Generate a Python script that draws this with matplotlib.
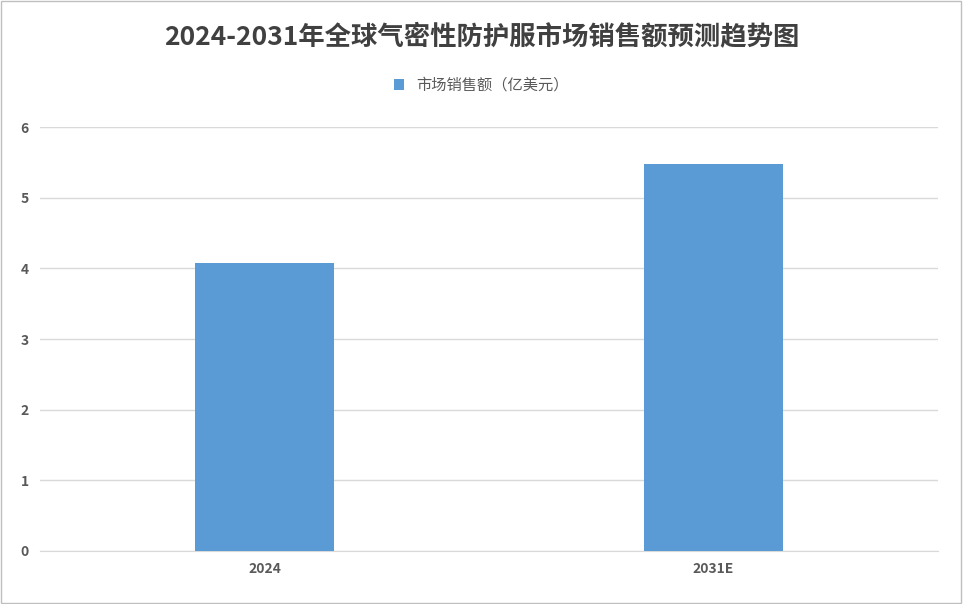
import matplotlib
matplotlib.use("Agg")
import matplotlib.pyplot as plt
from matplotlib.patches import Rectangle

plt.rcParams['font.family'] = ['Noto Sans CJK SC', 'DejaVu Sans']

categories = ["2024", "2031E"]
values = [4.08, 5.48]
series_name = "市场销售额（亿美元）"
title = "2024-2031年全球气密性防护服市场销售额预测趋势图"

fig = plt.figure(figsize=(9.63, 6.04), dpi=100)
ax = fig.add_axes([40/963, 1-551/604, 898/963, (551-127)/604])
ax.bar(range(len(categories)), values, width=0.31, color="#5B9BD5", label=series_name, zorder=3)
ax.set_xlim(-0.5, 1.5)
ax.set_ylim(0, 6)
ax.set_yticks(range(0, 7))
ax.set_xticks(range(len(categories)))
ax.set_xticklabels(categories, fontweight='bold')
ax.yaxis.grid(True, color="#D9D9D9", linewidth=1, zorder=0)
for s in ["top", "right", "left"]:
    ax.spines[s].set_visible(False)
ax.spines["bottom"].set_color("#D9D9D9")
ax.tick_params(axis='both', length=0, labelsize=10, colors="#595959", pad=8)
for t in ax.get_yticklabels():
    t.set_fontweight('bold')
fig.text(0.5, 1-37/604, title, ha='center', va='center', fontsize=19, fontweight='bold', color="#404040")
fig.legend(loc='center', bbox_to_anchor=(0.5, 1-85/604), frameon=False, fontsize=11,
           handlelength=0.7, handleheight=0.7, labelcolor="#595959")
fig.patches.append(Rectangle((0.001, 0.001), 0.997, 0.997, transform=fig.transFigure,
                             fill=False, edgecolor="#BFBFBF", linewidth=1))
fig.savefig("out.png", dpi=100)
